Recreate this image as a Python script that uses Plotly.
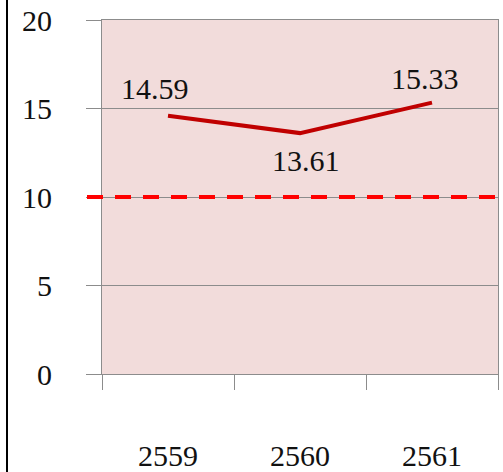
import plotly.graph_objects as go

# Yearly values (Buddhist Era years)
years = ["2559", "2560", "2561"]
values = [14.59, 13.61, 15.33]
threshold = 10
y_ticks = [0, 5, 10, 15, 20]

# Label offsets (px) relative to each point
label_dx = [-13, 6, -7]
label_dy = [27, -27, 24]

FONT = "Liberation Serif"
GRID = "#8C8C8C"
TXT = "#111111"

fig = go.Figure()

fig.add_trace(go.Scatter(
    x=years, y=values, mode="lines",
    line=dict(color="#C00000", width=4),
    showlegend=False,
))

for i, (v, dx, dy) in enumerate(zip(values, label_dx, label_dy)):
    fig.add_annotation(
        x=i, y=v, xref="x", yref="y", text=f"{v:.2f}", showarrow=False,
        xshift=dx, yshift=dy,
        font=dict(family=FONT, size=30, color=TXT),
    )

# Dashed threshold line, reaching out over the y tick marks
fig.add_shape(type="line", xref="paper", yref="y",
              x0=-15 / 396, x1=1, y0=threshold, y1=threshold,
              line=dict(color="#FF0000", width=4, dash="16px,12px"),
              layer="above")

# Left border line of the chart image
fig.add_shape(type="line", xref="paper", yref="paper",
              x0=-95 / 396, x1=-95 / 396, y0=-98 / 354, y1=20 / 354 + 1,
              line=dict(color="#000000", width=2))

fig.update_layout(
    width=503, height=472,
    margin=dict(l=102, r=5, t=20, b=98),
    paper_bgcolor="white",
    plot_bgcolor="#F2DCDB",
    xaxis=dict(
        type="category", categoryorder="array", categoryarray=years,
        range=[-0.5, 2.5], tickson="boundaries", automargin=False,
        ticks="outside", ticklen=15, tickcolor=GRID, tickwidth=1,
        showgrid=False, showline=True, linecolor=GRID, linewidth=1,
        mirror=True, zeroline=False,
        tickfont=dict(family=FONT, size=30, color=TXT),
        ticklabelstandoff=55,
    ),
    yaxis=dict(
        range=[0, 20], tickvals=y_ticks, automargin=False,
        ticks="outside", ticklen=15, tickcolor=GRID, tickwidth=1,
        showgrid=True, gridcolor=GRID, gridwidth=1,
        showline=True, linecolor=GRID, linewidth=1, mirror=True,
        zeroline=False,
        tickfont=dict(family=FONT, size=30, color=TXT),
        ticklabelstandoff=28,
    ),
)

fig.write_html("out.html")
